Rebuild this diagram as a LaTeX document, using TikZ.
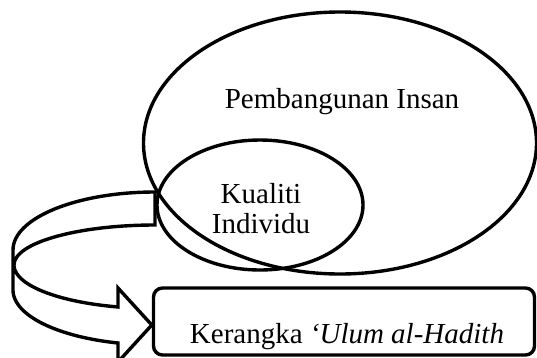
\documentclass[tikz,border=0pt]{standalone}
\usepackage{fontspec}
\setmainfont{Liberation Serif}
\usetikzlibrary{shapes.geometric}
\begin{document}
\begin{tikzpicture}[x=1pt,y=-1pt,
  thick line/.style={draw=black, line width=3.4pt},
  ring/.style={thick line, ellipse, inner sep=0pt, outer sep=0pt},
  label text/.style={font=\fontsize{29}{32}\selectfont, anchor=base, inner sep=0pt},
  framebox/.style={thick line, rounded corners=9pt, inner sep=0pt}]
\useasboundingbox (0,0) rectangle (537,357);
% ellipses
\node[ring, minimum width=393pt, minimum height=262pt] (insan) at (340,143) {};
\node[ring, minimum width=206pt, minimum height=130pt] (kualitiring) at (260,205) {};
% texts
\node[label text] (pembangunan) at (342,108) {Pembangunan Insan};
\node[label text] (kualiti) at (261,203) {Kualiti};
\node[label text] (individu) at (261,233) {Individu};
% bottom box
\node[framebox, minimum width=381pt, minimum height=67pt] (kerangka) at (344,321.5) {};
\node[label text] (kerangkatext) at (347,343) {Kerangka \textit{‘Ulum al-Hadith}};
% curved block arrow
\draw[thick line, line join=miter]
  plot[domain=105.1:180, samples=40, variable=\t] ({155+142*cos(\t)},{290+54.9*sin(\t)})
  -- (13,250) .. controls (13,218) and (76.6,192) .. (155,192)
  -- (155,225) .. controls (77.1,225) and (14,242.9) .. (14,265)
  -- plot[domain=180:105.2, samples=40, variable=\t] ({155+141*cos(\t)},{265+43.5*sin(\t)})
  -- (118,288) -- (kerangka.west |- 0,325) -- (118,362) -- cycle;
\end{tikzpicture}
\end{document}
